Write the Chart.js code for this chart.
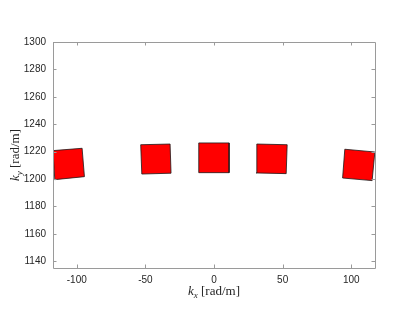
<!DOCTYPE html>
<html>
<head>
<meta charset="utf-8">
<script src="https://cdn.jsdelivr.net/npm/chart.js@4.4.0/dist/chart.umd.min.js"></script>
<style>
  html, body { margin: 0; padding: 0; background: #fff; }
  #wrap { width: 415px; height: 322px; }
</style>
</head>
<body>
<div id="wrap"><canvas id="chart"></canvas></div>
<script>
// Axis settings
const xTicks = [-100, -50, 0, 50, 100];
const yTicks = [1140, 1160, 1180, 1200, 1220, 1240, 1260, 1280, 1300];
const xLimits = [-117.3, 117.3];
const yLimits = [1135, 1300];

// Patch corners (top-left, top-right, bottom-right, bottom-left)
const patchX = [
  [-117.3, -96.1, -94.4, -116.0],
  [-53.4, -32.0, -31.3, -52.6],
  [-11.1, 11.0, 11.0, -11.1],
  [31.2, 53.3, 52.6, 30.7],
  [95.3, 117.2, 115.2, 93.7]
];
const patchY = [
  [1220.7, 1222.4, 1201.7, 1199.5],
  [1225.0, 1225.5, 1204.2, 1203.6],
  [1226.3, 1226.3, 1204.6, 1204.6],
  [1225.5, 1225.0, 1203.9, 1204.4],
  [1221.7, 1219.7, 1198.8, 1200.7]
];

const axisColor = '#9a9a9a';
const textColor = '#262626';
const tickFont = { family: 'Liberation Sans, Arial, sans-serif', size: 10 };

// Build closed polygons
const datasets = patchX.map((xs, i) => {
  const pts = xs.map((x, j) => ({ x: x, y: patchY[i][j] }));
  pts.push(pts[0]);
  return {
    data: pts,
    showLine: true,
    fill: 'shape',
    backgroundColor: '#ff0000',
    borderColor: '#1a1a1a',
    borderWidth: 0.8,
    pointRadius: 0,
    tension: 0
  };
});

// MATLAB-like box with inward ticks
const boxPlugin = {
  id: 'box',
  afterDraw(chart) {
    const ctx = chart.ctx;
    const a = chart.chartArea;
    const xs = chart.scales.x, ys = chart.scales.y;
    const len = 3.5;
    ctx.save();
    ctx.strokeStyle = axisColor;
    ctx.lineWidth = 1;
    ctx.beginPath();
    ctx.rect(Math.round(a.left) + 0.5, Math.round(a.top) + 0.5,
             Math.round(a.right - a.left), Math.round(a.bottom - a.top));
    xTicks.forEach(v => {
      const px = Math.round(xs.getPixelForValue(v)) + 0.5;
      ctx.moveTo(px, a.bottom); ctx.lineTo(px, a.bottom - len);
      ctx.moveTo(px, a.top); ctx.lineTo(px, a.top + len);
    });
    yTicks.forEach(v => {
      const py = Math.round(ys.getPixelForValue(v)) + 0.5;
      ctx.moveTo(a.left, py); ctx.lineTo(a.left + len, py);
      ctx.moveTo(a.right, py); ctx.lineTo(a.right - len, py);
    });
    ctx.stroke();

    // axis titles with italic k and subscript
    drawLabel(ctx, 'x', (a.left + a.right) / 2, 291, false);
    drawLabel(ctx, 'y', 15, (a.top + a.bottom) / 2, true);
    ctx.restore();
  }
};

function drawLabel(ctx, sub, cx, cy, rotate) {
  const fam = '"Liberation Serif", "DejaVu Serif", serif';
  const fMain = 'italic 13px ' + fam;
  const fSub = 'italic 9px ' + fam;
  const fRest = '13px ' + fam;
  const rest = ' [rad/m]';
  ctx.save();
  ctx.translate(cx, cy);
  if (rotate) ctx.rotate(-Math.PI / 2);
  ctx.fillStyle = textColor;
  ctx.textBaseline = 'alphabetic';
  ctx.textAlign = 'left';
  ctx.font = fMain; const wk = ctx.measureText('k').width;
  ctx.font = fSub; const ws = ctx.measureText(sub).width;
  ctx.font = fRest; const wr = ctx.measureText(rest).width;
  let x = -(wk + ws + wr) / 2;
  ctx.font = fMain; ctx.fillText('k', x, 4); x += wk;
  ctx.font = fSub; ctx.fillText(sub, x, 7); x += ws;
  ctx.font = fRest; ctx.fillText(rest, x, 4);
  ctx.restore();
}

new Chart(document.getElementById('chart'), {
  type: 'scatter',
  data: { datasets },
  options: {
    responsive: true,
    maintainAspectRatio: false,
    animation: false,
    layout: { padding: { left: 0, right: 40, top: 42, bottom: 0 } },
    plugins: {
      legend: { display: false },
      tooltip: { enabled: false },
      title: { display: false }
    },
    scales: {
      x: {
        type: 'linear',
        min: xLimits[0],
        max: xLimits[1],
        grid: { display: false, drawTicks: false },
        border: { display: false },
        afterBuildTicks: s => { s.ticks = xTicks.map(v => ({ value: v })); },
        afterFit: s => { s.height = 54; },
        ticks: { color: textColor, font: tickFont, padding: 6, maxRotation: 0,
                 callback: v => String(v) }
      },
      y: {
        type: 'linear',
        min: yLimits[0],
        max: yLimits[1],
        grid: { display: false, drawTicks: false },
        border: { display: false },
        afterBuildTicks: s => { s.ticks = yTicks.map(v => ({ value: v })); },
        afterFit: s => { s.width = 53; },
        ticks: { color: textColor, font: tickFont, padding: 7,
                 callback: v => String(v) }
      }
    }
  },
  plugins: [boxPlugin]
});
</script>
</body>
</html>
